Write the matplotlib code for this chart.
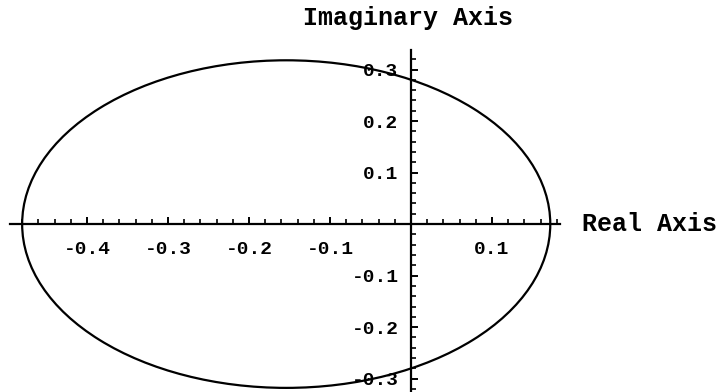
import matplotlib.pyplot as plt
from matplotlib.patches import Ellipse
from matplotlib.ticker import MultipleLocator, FixedLocator

# Nyquist locus: closed curve around the origin, read as an ellipse
locus_center = (-0.154, 0.0)
locus_rx = 0.326
locus_ry = 0.318

xlim = (-0.495, 0.184)
ylim = (-0.326, 0.338)
x_ticks = [-0.4, -0.3, -0.2, -0.1, 0.1]
x_labels = ["-0.4", "-0.3", "-0.2", "-0.1", "0.1"]
y_ticks = [-0.3, -0.2, -0.1, 0.1, 0.2, 0.3]
y_labels = ["-0.3", "-0.2", "-0.1", "0.1", "0.2", "0.3"]

mono = "Liberation Mono"

fig = plt.figure(figsize=(7.24, 3.92), dpi=100)
ax = fig.add_axes([10 / 724, 0.0, 550 / 724, 342 / 392])
ax.set_xlim(*xlim)
ax.set_ylim(*ylim)

ax.add_patch(Ellipse(locus_center, 2 * locus_rx, 2 * locus_ry,
                     fill=False, edgecolor="black", lw=1.6))

# axes through the origin, Mathematica style
for side in ["top", "right"]:
    ax.spines[side].set_visible(False)
ax.spines["left"].set_position(("data", 0))
ax.spines["bottom"].set_position(("data", 0))
ax.spines["left"].set_linewidth(1.6)
ax.spines["bottom"].set_linewidth(1.6)

ax.xaxis.set_major_locator(FixedLocator(x_ticks))
ax.yaxis.set_major_locator(FixedLocator(y_ticks))
ax.xaxis.set_minor_locator(MultipleLocator(0.02))
ax.yaxis.set_minor_locator(MultipleLocator(0.02))
ax.set_xticklabels(x_labels)
ax.set_yticklabels(y_labels)

ax.tick_params(which="major", direction="in", length=5, width=1.4)
ax.tick_params(which="minor", direction="in", length=3.5, width=1.2)
ax.tick_params(axis="x", which="major", pad=12)
ax.tick_params(axis="y", which="major", pad=9)
for lab in ax.get_xticklabels() + ax.get_yticklabels():
    lab.set_fontfamily(mono)
    lab.set_fontweight("bold")
    lab.set_fontsize(14)

fig.text(408 / 724, 1 - 18 / 392, "Imaginary Axis", ha="center", va="center",
         fontfamily=mono, fontweight="bold", fontsize=18)
fig.text(582 / 724, 1 - 224 / 392, "Real Axis", ha="left", va="center",
         fontfamily=mono, fontweight="bold", fontsize=18)

fig.savefig("out.png", dpi=100, facecolor="white")
